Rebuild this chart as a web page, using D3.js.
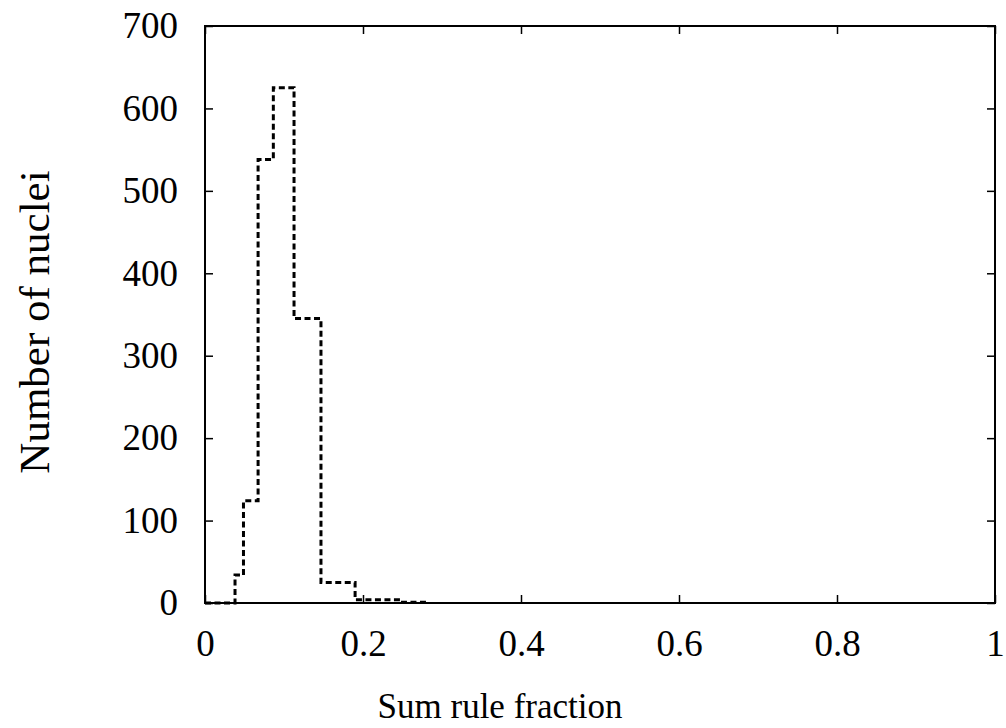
<!DOCTYPE html>
<meta charset="utf-8">
<script src="https://d3js.org/d3.v7.min.js"></script>
<style>
  body { margin: 0; background: #fff; }
  text { font-family: "Liberation Serif", "Times New Roman", serif; }
</style>
<div id="chart"></div>
<script>

// histogram bin edges (sum rule fraction) and counts
var binEdges = [0, 0.038, 0.0487, 0.0672, 0.0865, 0.1127, 0.1468, 0.19, 0.247, 0.282];
var binCounts = [0, 34, 124, 538, 625, 345, 25, 4, 1];

var xTicks = [0, 0.2, 0.4, 0.6, 0.8, 1];
var xTickLabels = ["0", "0.2", "0.4", "0.6", "0.8", "1"];
var yTicks = [0, 100, 200, 300, 400, 500, 600, 700];

var W = 1006, H = 728;
var margin = {top: 26, right: 11, bottom: 125, left: 205};

var svg = d3.select("#chart")
  .append("svg")
    .attr("width", W)
    .attr("height", H);

var x = d3.scaleLinear().domain([0, 1]).range([margin.left, W - margin.right]);
var y = d3.scaleLinear().domain([0, 700]).range([H - margin.bottom, margin.top]);

// axes, ticks pointing inward, mirrored on top and right
svg.append("g")
  .attr("transform", "translate(0," + y(0) + ")")
  .call(d3.axisBottom(x).tickValues(xTicks)
    .tickFormat(function(d, i) { return xTickLabels[i]; })
    .tickSizeInner(-8).tickSizeOuter(0).tickPadding(27));

svg.append("g")
  .attr("transform", "translate(0," + y(700) + ")")
  .call(d3.axisTop(x).tickValues(xTicks).tickFormat("")
    .tickSizeInner(-8).tickSizeOuter(0));

svg.append("g")
  .attr("transform", "translate(" + x(0) + ",0)")
  .call(d3.axisLeft(y).tickValues(yTicks)
    .tickSizeInner(-8).tickSizeOuter(0).tickPadding(27));

svg.append("g")
  .attr("transform", "translate(" + x(1) + ",0)")
  .call(d3.axisRight(y).tickValues(yTicks).tickFormat("")
    .tickSizeInner(-8).tickSizeOuter(0));

svg.selectAll(".domain").remove();
svg.selectAll(".tick line").attr("stroke", "#000").attr("stroke-width", 1.5);
svg.selectAll(".tick text")
  .attr("fill", "#000")
  .style("font-size", "37px")
  .style("font-family", "'Liberation Serif', serif");

// frame
svg.append("rect")
  .attr("x", x(0))
  .attr("y", y(700))
  .attr("width", x(1) - x(0))
  .attr("height", y(0) - y(700))
  .attr("fill", "none")
  .attr("stroke", "#000")
  .attr("stroke-width", 2);

// step histogram
var pts = binEdges.map(function(e, i) {
  return {x: e, v: i < binCounts.length ? binCounts[i] : binCounts[binCounts.length - 1]};
});

var line = d3.line()
  .curve(d3.curveStepAfter)
  .x(function(d) { return x(d.x); })
  .y(function(d) { return y(d.v); });

svg.append("path")
  .datum(pts)
  .attr("d", line)
  .attr("fill", "none")
  .attr("stroke", "#000")
  .attr("stroke-width", 3)
  .attr("stroke-dasharray", "6,3.5");

// axis titles
svg.append("text")
  .attr("x", 500)
  .attr("y", 718)
  .attr("text-anchor", "middle")
  .style("font-size", "35px")
  .text("Sum rule fraction");

svg.append("text")
  .attr("transform", "translate(49,322) rotate(-90)")
  .attr("text-anchor", "middle")
  .style("font-size", "43px")
  .text("Number of nuclei");

</script>
